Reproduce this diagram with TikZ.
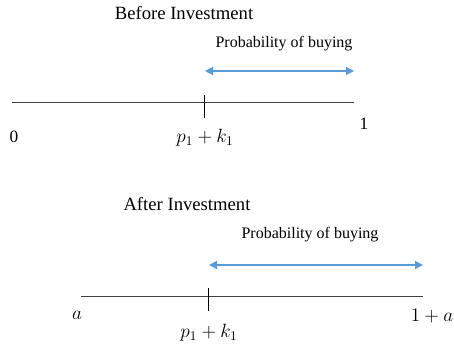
\documentclass[tikz,border=0pt]{standalone}
\usepackage{fontspec}
\setmainfont{Liberation Serif}
\usetikzlibrary{arrows.meta}
\definecolor{axisgray}{HTML}{404040}
\definecolor{arrowblue}{HTML}{5B9BD5}
\begin{document}
\begin{tikzpicture}[x=0.75pt,y=-0.75pt,
  axis/.style={draw=axisgray,line width=0.75pt},
  tickmark/.style={draw=black,line width=0.75pt},
  probarrow/.style={draw=arrowblue,line width=1.1pt,
    {Triangle[length=6pt,width=6pt]}-{Triangle[length=6pt,width=6pt]}},
  title/.style={font=\fontsize{14}{16}\selectfont,inner sep=0pt},
  plabel/.style={font=\fontsize{12}{14}\selectfont,inner sep=0pt},
  nlabel/.style={font=\fontsize{13}{15}\selectfont,inner sep=0pt},
  mlabel/.style={font=\fontsize{14.5}{16}\selectfont,inner sep=0pt}]
\useasboundingbox (0,0) rectangle (454,348);
% Before
\node[title] (t1) at (184,13) {Before Investment};
\node[plabel] (pb1) at (284,44) {Probability of buying};
\coordinate (a1l) at (12,103);
\coordinate (a1r) at (354,103);
\coordinate (k1t) at (204,95);
\coordinate (k1b) at (204,118);
\coordinate (r1l) at (205,71);
\coordinate (r1r) at (354,71);
\draw[axis] (a1l) -- (a1r);
\draw[tickmark] (k1t) -- (k1b);
\draw[probarrow] (r1l) -- (r1r);
\node[nlabel] (z1) at (14,137) {0};
\node[nlabel] (o1) at (364,124) {1};
\node[mlabel] (pk1) at (205,138) {$p_1+k_1$};
% After
\node[title] (t2) at (187,204) {After Investment};
\node[plabel] (pb2) at (310,235) {Probability of buying};
\coordinate (a2l) at (81,297);
\coordinate (a2r) at (423,297);
\coordinate (k2t) at (208,288);
\coordinate (k2b) at (208,311);
\coordinate (r2l) at (209,265);
\coordinate (r2r) at (423,265);
\draw[axis] (a2l) -- (a2r);
\draw[tickmark] (k2t) -- (k2b);
\draw[probarrow] (r2l) -- (r2r);
\node[mlabel] (z2) at (77,315) {$a$};
\node[mlabel] (o2) at (432,316) {$1+a$};
\node[mlabel] (pk2) at (209,333) {$p_1+k_1$};
\end{tikzpicture}
\end{document}
